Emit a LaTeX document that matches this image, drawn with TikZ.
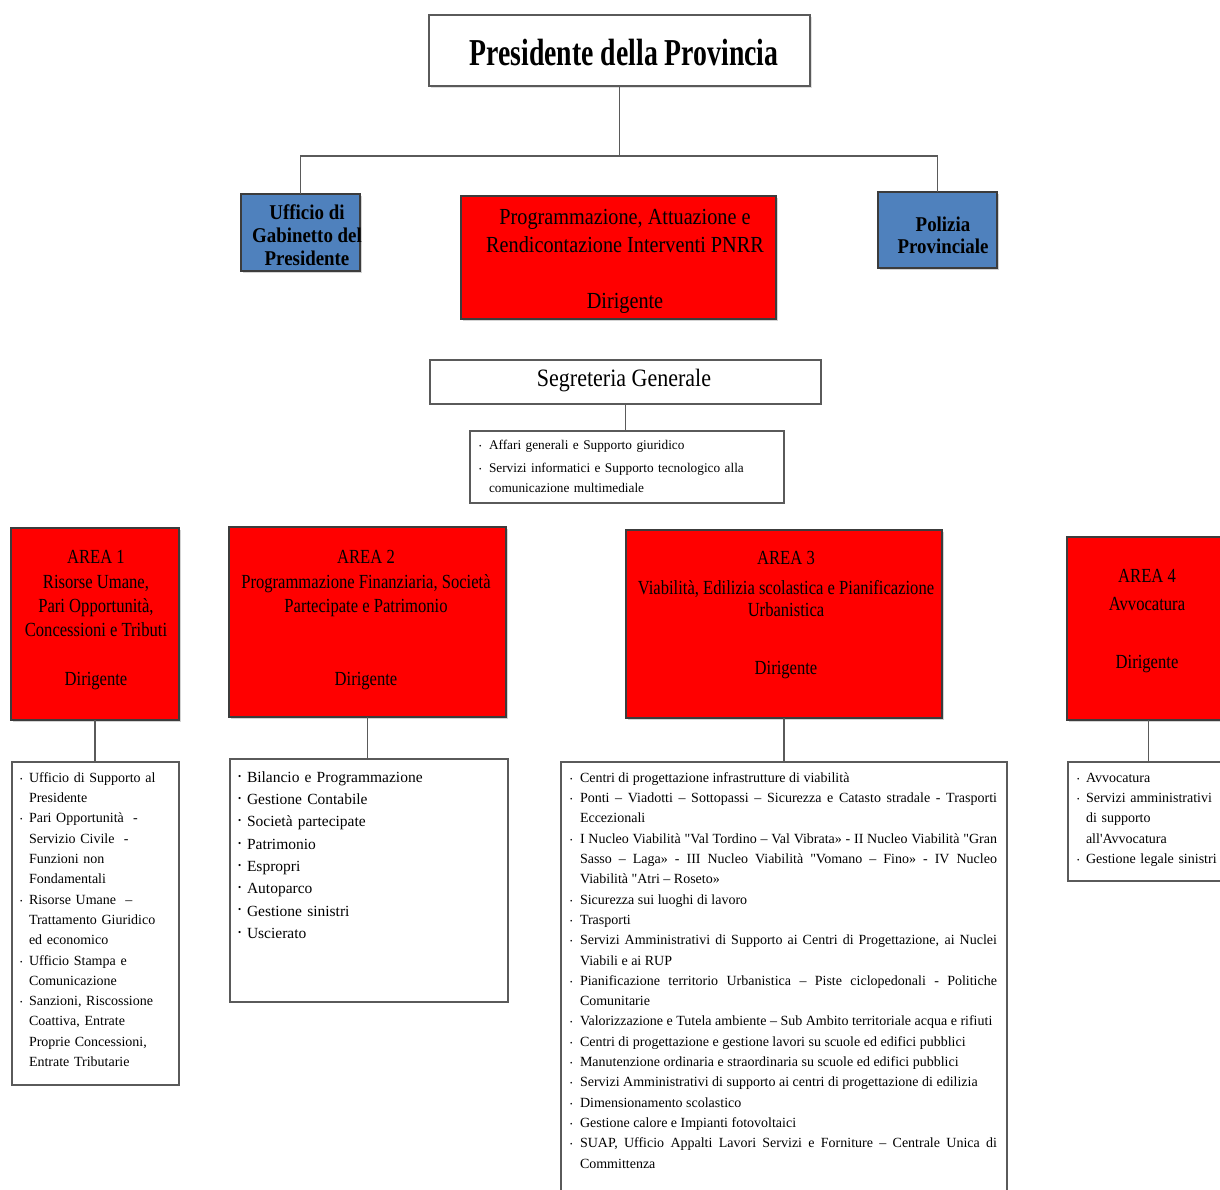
\documentclass[tikz,border=0pt]{standalone}
\usepackage{fontspec}
\usepackage{graphicx}
\setmainfont{Liberation Serif}
\newfontfamily\stA{Liberation Serif}[FakeStretch=0.73]
\newfontfamily\stB{Liberation Serif}[FakeStretch=0.83]
\newfontfamily\stC{Liberation Serif}[FakeStretch=0.88]
\newfontfamily\stD{Liberation Serif}[FakeStretch=0.9]
\newfontfamily\stE{Liberation Serif}[FakeStretch=1.0]
\usetikzlibrary{shadows}
\definecolor{boxred}{RGB}{255,0,0}
\definecolor{boxblue}{RGB}{79,129,189}
\definecolor{edgec}{RGB}{60,60,60}
\definecolor{lineg}{RGB}{90,90,90}
\newlength{\hind}
\newcommand{\bul}{\rule{0pt}{13pt}\makebox[\hind][l]{\raisebox{0.15ex}{\fontsize{7}{7}\selectfont •}}}
\newcommand{\bulup}{\rule{0pt}{13pt}\makebox[\hind][l]{\raisebox{0.45ex}{\fontsize{9}{9}\selectfont •}}}
\newcommand{\li}[1]{\par\noindent\hangindent=\hind\hangafter=1\bul#1}
\newcommand{\lu}[1]{\par\noindent\hangindent=\hind\hangafter=1\bulup#1}
\newcommand{\nl}{\hfil\break}
\begin{document}
\begin{tikzpicture}[x=1pt,y=-1pt,
  every node/.style={inner sep=0pt, outer sep=0pt},
  boxbase/.style={anchor=north west},
  whitebox/.style={boxbase, fill=white, draw=lineg, line width=1.3pt},
  titlebox/.style={boxbase, fill=white, draw=lineg, line width=1.5pt,
     drop shadow={shadow xshift=1.5pt, shadow yshift=-1.5pt, opacity=0.25}},
  redbox/.style={boxbase, fill=boxred, draw=edgec, line width=1.2pt,
     drop shadow={shadow xshift=1.5pt, shadow yshift=-2pt, opacity=0.35}},
  bluebox/.style={boxbase, fill=boxblue, draw=edgec, line width=1.2pt,
     drop shadow={shadow xshift=1.5pt, shadow yshift=-2pt, opacity=0.35}},
  conn/.style={draw=lineg, line width=1.2pt},
  redtxt/.style={align=center, font=\stB\fontsize{20}{24.3}\selectfont},
  listtxt/.style={anchor=north west, align=left, font=\stE\fontsize{14}{20.3}\selectfont},
]
\useasboundingbox (0,0) rectangle (1220,1189);
\clip (0,0) rectangle (1220,1189);

% ---------- top level ----------
\node[titlebox, minimum width=381pt, minimum height=71pt] (pres) at (429,15) {};
\node[font=\stA\fontsize{38}{40}\selectfont\bfseries] (prest) at (624,52) {Presidente della Provincia};

\node[bluebox, minimum width=119pt, minimum height=77pt] (ugab) at (241,194) {};
\node[align=center, font=\stD\fontsize{21}{23}\selectfont\bfseries] (ugabt) at (307,235) {Ufficio di\\Gabinetto del\\Presidente};

\node[redbox, minimum width=315pt, minimum height=123pt] (pnrr) at (461,196) {};
\node[align=center, font=\stC\fontsize{23}{28}\selectfont] (pnrrt) at (625,261) {Programmazione, Attuazione e\\Rendicontazione Interventi PNRR\\[28pt]Dirigente};

\node[bluebox, minimum width=119pt, minimum height=76pt] (pol) at (878,192) {};
\node[align=center, font=\stD\fontsize{21}{22}\selectfont\bfseries] (polt) at (943,235) {Polizia\\Provinciale};

\coordinate (hub) at (620,156);
\draw[conn] (pres.south) -- (pres.south |- hub);
\draw[conn] (ugab.north) -- (ugab.north |- hub) -- (pol.north |- hub) -- (pol.north);

% ---------- Segreteria ----------
\node[whitebox, minimum width=391pt, minimum height=44pt] (seg) at (430,360) {};
\node[font=\stC\fontsize{25}{28}\selectfont] (segt) at (624,381) {Segreteria Generale};
\node[whitebox, minimum width=314pt, minimum height=72pt] (segl) at (470,431) {};
\draw[conn] (seg.south) -- (seg.south |- segl.north);
\node[anchor=north west, align=left, text width=300pt, font=\stE\fontsize{13.3}{19.5}\selectfont] (seglt) at (479,430) {%
\setlength{\hind}{10pt}%
\li{Affari generali e Supporto giuridico}\par\vspace{3.5pt}%
\li{Servizi informatici e Supporto tecnologico alla\nl comunicazione multimediale}\par};

% ---------- AREA 1 ----------
\node[redbox, minimum width=168pt, minimum height=192pt] (a1) at (11,528) {};
\node[redtxt] (a1t) at (96,620) {AREA 1\\Risorse Umane,\\Pari Opportunità,\\Concessioni e Tributi\\[24.3pt]Dirigente};
\node[whitebox, minimum width=167pt, minimum height=323pt] (a1l) at (12,762) {};
\draw[conn] (a1.south) -- (a1.south |- a1l.north);
\node[listtxt, text width=157pt] (a1lt) at (20,762) {%
\setlength{\hind}{9pt}%
\li{Ufficio di Supporto al\nl Presidente}%
\li{Pari Opportunità \ -\nl Servizio Civile \ -\nl Funzioni non\nl Fondamentali}%
\li{Risorse Umane \ –\nl Trattamento Giuridico\nl ed economico}%
\li{Ufficio Stampa e\nl Comunicazione}%
\li{Sanzioni, Riscossione\nl Coattiva, Entrate\nl Proprie Concessioni,\nl Entrate Tributarie}\par};

% ---------- AREA 2 ----------
\node[redbox, minimum width=277pt, minimum height=190pt] (a2) at (229,527) {};
\node[redtxt] (a2t) at (366,620) {AREA 2\\Programmazione Finanziaria, Società\\Partecipate e Patrimonio\\[48.6pt]Dirigente};
\node[whitebox, minimum width=278pt, minimum height=243pt] (a2l) at (230,759) {};
\draw[conn] (a2.south) -- (a2.south |- a2l.north);
\node[listtxt, text width=262pt, font=\stE\fontsize{15.5}{22.3}\selectfont] (a2lt) at (238,760) {%
\setlength{\hind}{9pt}%
\lu{Bilancio e Programmazione}%
\lu{Gestione Contabile}%
\lu{Società partecipate}%
\lu{Patrimonio}%
\lu{Espropri}%
\lu{Autoparco}%
\lu{Gestione sinistri}%
\lu{Uscierato}\par};

% ---------- AREA 3 ----------
\node[redbox, minimum width=316pt, minimum height=188pt] (a3) at (626,530) {};
\node[redtxt] (a3t) at (786,615) {AREA 3\\[6pt]Viabilità, Edilizia scolastica e Pianificazione\\[-3pt]Urbanistica\\[34pt]Dirigente};
\node[whitebox, minimum width=446pt, minimum height=440pt] (a3l) at (561,762) {};
\draw[conn] (a3.south) -- (a3.south |- a3l.north);
\node[listtxt, align=justify, text width=427pt] (a3lt) at (570,762) {%
\setlength{\hind}{10pt}%
\li{Centri di progettazione infrastrutture di viabilità}%
\li{Ponti – Viadotti – Sottopassi – Sicurezza e Catasto stradale - Trasporti\linebreak Eccezionali}%
\li{I Nucleo Viabilità "Val Tordino – Val Vibrata» - II Nucleo Viabilità "Gran\linebreak Sasso – Laga» - III Nucleo Viabilità "Vomano – Fino» - IV Nucleo\linebreak Viabilità "Atri – Roseto»}%
\li{Sicurezza sui luoghi di lavoro}%
\li{Trasporti}%
\li{Servizi Amministrativi di Supporto ai Centri di Progettazione, ai Nuclei\linebreak Viabili e ai RUP}%
\li{Pianificazione territorio Urbanistica – Piste ciclopedonali - Politiche\linebreak Comunitarie}%
\li{Valorizzazione e Tutela ambiente – Sub Ambito territoriale acqua e rifiuti}%
\li{Centri di progettazione e gestione lavori su scuole ed edifici pubblici}%
\li{Manutenzione ordinaria e straordinaria su scuole ed edifici pubblici}%
\li{Servizi Amministrativi di supporto ai centri di progettazione di edilizia}%
\li{Dimensionamento scolastico}%
\li{Gestione calore e Impianti fotovoltaici}%
\li{SUAP, Ufficio Appalti Lavori Servizi e Forniture – Centrale Unica di\linebreak Committenza}\par};

% ---------- AREA 4 ----------
\node[redbox, minimum width=163pt, minimum height=183pt] (a4) at (1067,537) {};
\node[redtxt] (a4t) at (1147,621) {AREA 4\\[4pt]Avvocatura\\[34pt]Dirigente};
\node[whitebox, minimum width=162pt, minimum height=119pt] (a4l) at (1068,762) {};
\draw[conn] (a4.south) -- (a4.south |- a4l.north);
\node[listtxt, text width=145pt] (a4lt) at (1077,762) {%
\setlength{\hind}{9pt}%
\li{Avvocatura}%
\li{Servizi amministrativi\nl di supporto\nl all'Avvocatura}%
\li{Gestione legale sinistri}\par};
\end{tikzpicture}
\end{document}
